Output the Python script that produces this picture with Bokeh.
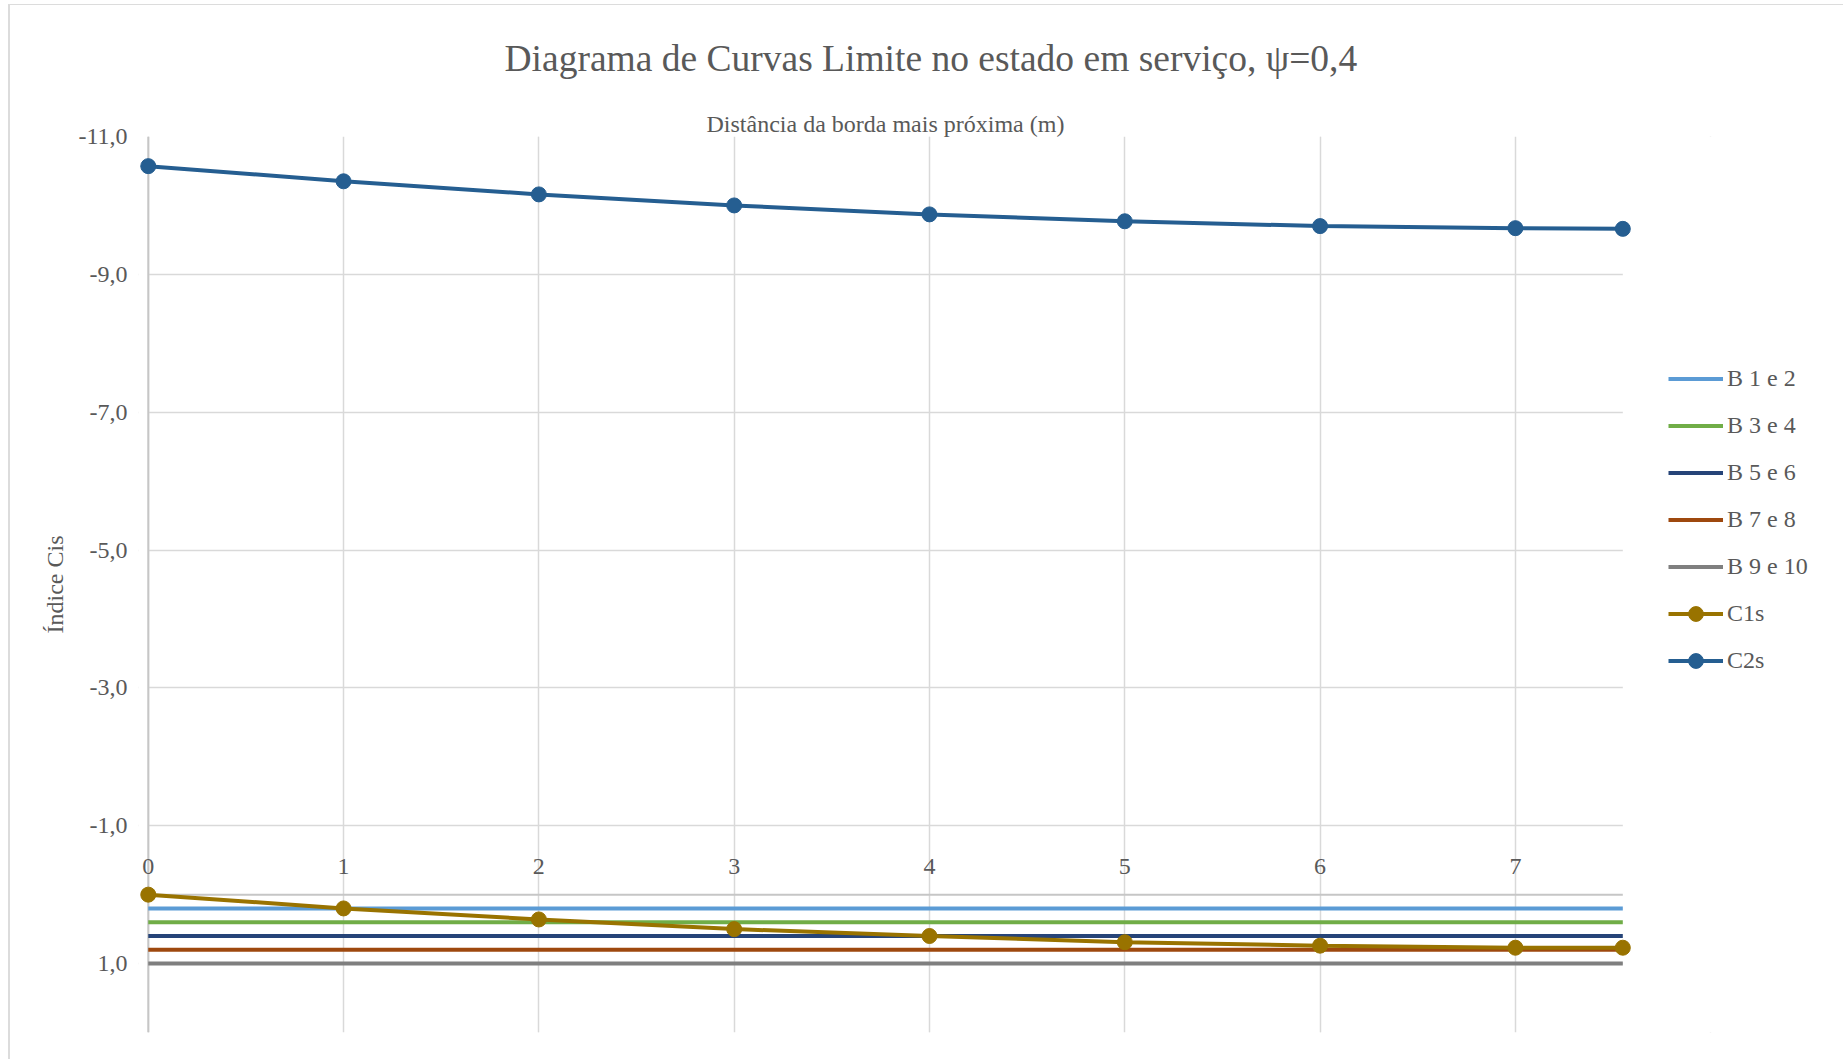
from bokeh.plotting import figure
from bokeh.models import (Range1d, FixedTicker, SingleIntervalTicker, CustomJSTickFormatter,
                          Legend, LegendItem, Grid, Title)
from bokeh.core.properties import value
from bokeh.embed import file_html
from bokeh.resources import INLINE

# Distance from the nearest edge (m)
x_pts = [0, 1, 2, 3, 4, 5, 6, 7, 7.55]
# Limit curves
c1s = [0.00, 0.20, 0.36, 0.50, 0.60, 0.69, 0.74, 0.77, 0.77]
c2s = [-10.57, -10.35, -10.16, -10.00, -9.87, -9.77, -9.70, -9.67, -9.66]
# Constant beam indices
limit_names = ["B 1 e 2", "B 3 e 4", "B 5 e 6", "B 7 e 8", "B 9 e 10"]
limit_values = [0.2, 0.4, 0.6, 0.8, 1.0]
x_ticks = [0, 1, 2, 3, 4, 5, 6, 7]
y_ticks = [-11, -9, -7, -5, -3, -1, 1]

X_MIN, X_MAX = 0, 7.55
Y_TOP, Y_BOTTOM = -11, 2
PAD = 0.05        # margin so end markers and the "0" label are not clipped
X_RIGHT = 8.68    # room on the right of the data range for the legend

limit_colors = ["#5B9BD5", "#70AD47", "#264478", "#9E480E", "#7F7F7F"]
c1s_color = "#997300"
c2s_color = "#255E91"
text_color = "#595959"
grid_color = "#D9D9D9"
axis_color = "#C6C6C6"
FONT = "Liberation Serif"

p = figure(width=1835, height=1055, output_backend="svg", toolbar_location=None,
           x_range=Range1d(X_MIN - PAD, X_RIGHT), y_range=Range1d(Y_BOTTOM, Y_TOP),
           x_axis_location=None,
           min_border_left=128, min_border_right=2, min_border_top=131, min_border_bottom=28)
p.styles = {"margin-left": "8px", "margin-top": "4px",
            "border-left": "2px solid #DCDCDC", "border-top": "1px solid #DCDCDC"}
p.outline_line_color = None
p.background_fill_color = "white"
p.border_fill_color = "white"

# Axis title for the distance, placed just above the frame over the data range
p.add_layout(Title(text="Distância da borda mais próxima (m)", align="left", offset=568,
                   text_font=FONT, text_font_size="24px", text_font_style="normal",
                   text_color=text_color, standoff=0), "above")

p.title.text = "Diagrama de Curvas Limite no estado em serviço, ψ=0,4"
p.title.align = "left"
p.title.offset = 366
p.title.text_font = FONT
p.title.text_font_size = "37.5px"
p.title.text_font_style = "normal"
p.title.text_color = text_color
p.title.standoff = 60

ya = p.yaxis[0]
ya.ticker = FixedTicker(ticks=y_ticks)
ya.formatter = CustomJSTickFormatter(code="return tick.toFixed(1).replace('.', ',');")
ya.axis_label = "Índice Cis"
ya.axis_label_text_font = FONT
ya.axis_label_text_font_size = "24px"
ya.axis_label_text_font_style = "normal"
ya.axis_label_text_color = text_color
ya.axis_label_standoff = 7
ya.major_label_text_font = FONT
ya.major_label_text_font_size = "24px"
ya.major_label_text_color = text_color
ya.major_label_standoff = 11
ya.major_tick_out = 0
ya.major_tick_in = 0
ya.minor_tick_out = 0
ya.minor_tick_in = 0
ya.axis_line_color = None

p.ygrid.grid_line_color = grid_color
p.ygrid.grid_line_width = 1.5
p.add_layout(Grid(dimension=0, ticker=SingleIntervalTicker(interval=1),
                  grid_line_color=grid_color, grid_line_width=1.5))

# Blank out everything outside the data range (left pad and legend area)
p.quad(left=[X_MIN - PAD, X_MAX], right=[X_MIN, X_RIGHT],
       top=[Y_TOP, Y_TOP], bottom=[Y_BOTTOM, Y_BOTTOM],
       fill_color="white", line_color=None)

# Vertical axis line at x = 0 and horizontal axis crossing at zero
p.segment(x0=[X_MIN], y0=[Y_TOP], x1=[X_MIN], y1=[Y_BOTTOM], line_color=axis_color, line_width=2)
p.segment(x0=[X_MIN], y0=[0], x1=[X_MAX], y1=[0], line_color=axis_color, line_width=2)
p.text(x=x_ticks, y=[0] * len(x_ticks), text=[str(t) for t in x_ticks],
       text_align="center", text_baseline="middle", y_offset=-28,
       text_font=value(FONT), text_font_size="24px", text_color=text_color)

items = []
for name, val, col in zip(limit_names, limit_values, limit_colors):
    r = p.line([X_MIN, X_MAX], [val, val], line_color=col, line_width=4)
    items.append(LegendItem(label=name, renderers=[r]))

l1 = p.line(x_pts, c1s, line_color=c1s_color, line_width=4)
s1 = p.scatter(x_pts, c1s, size=15, fill_color=c1s_color, line_color=c1s_color)
items.append(LegendItem(label="C1s", renderers=[l1, s1]))
l2 = p.line(x_pts, c2s, line_color=c2s_color, line_width=4)
s2 = p.scatter(x_pts, c2s, size=15, fill_color=c2s_color, line_color=c2s_color)
items.append(LegendItem(label="C2s", renderers=[l2, s2]))

legend = Legend(items=items, location=(1530, 353), orientation="vertical",
                glyph_width=55, glyph_height=37, label_height=20, spacing=10,
                label_standoff=4, padding=0, margin=0,
                label_text_font=FONT, label_text_font_size="24px",
                label_text_color=text_color,
                border_line_color=None, background_fill_alpha=0)
p.add_layout(legend, "center")

open("out.html", "w").write(file_html(p, INLINE))
